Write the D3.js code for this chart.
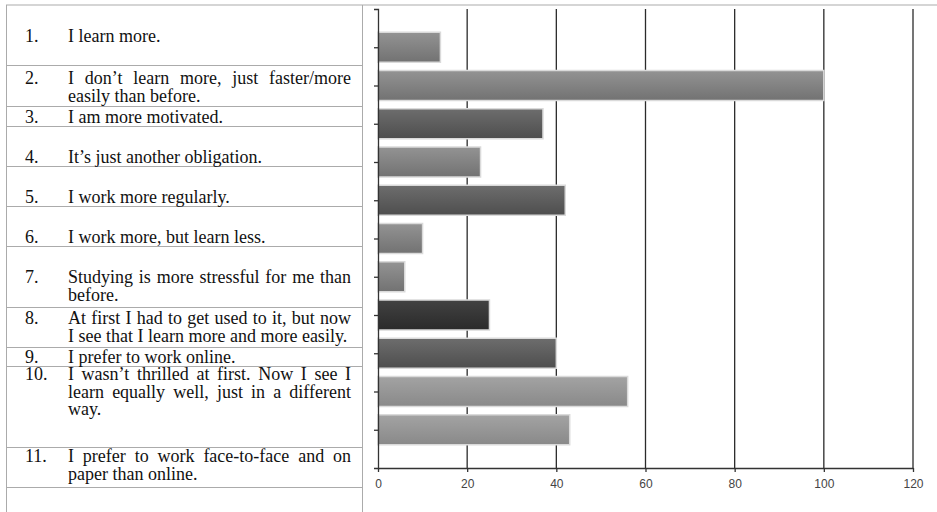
<!DOCTYPE html>
<html>
<head>
<meta charset="utf-8">
<script src="https://cdn.jsdelivr.net/npm/d3@7"></script>
<style>
  body { margin: 0; background: #fff; }
  svg { display: block; }
</style>
</head>
<body>
<svg id="chart"></svg>
<script>
// statements shown in the table, one array entry per printed line
var itemNumbers = ["1.", "2.", "3.", "4.", "5.", "6.", "7.", "8.", "9.", "10.", "11."];
var itemLines = [
  ["I learn more."],
  ["I don\u2019t learn more, just faster/more", "easily than before."],
  ["I am more motivated."],
  ["It\u2019s just another obligation."],
  ["I work more regularly."],
  ["I work more, but learn less."],
  ["Studying is more stressful for me than", "before."],
  ["At first I had to get used to it, but now", "I see that I learn more and more easily."],
  ["I prefer to work online."],
  ["I wasn\u2019t thrilled at first. Now I see I", "learn equally well, just in a different", "way."],
  ["I prefer to work face-to-face and on", "paper than online."]
];
var responses = [14, 100, 37, 23, 42, 10, 6, 25, 40, 56, 43];
var xTicks = [0, 20, 40, 60, 80, 100, 120];
var barShade = ["mid", "mid", "dark", "mid", "dark", "mid", "mid", "darkest", "dark", "light", "light"];

var width = 937, height = 512;
var svg = d3.select("#chart").attr("width", width).attr("height", height);

// ---- table on the left ----
var rowEdges = [5, 65, 106, 126, 166, 206, 246, 307, 347, 366, 447, 487];
var firstLineY = [36, 78, 116.5, 157, 197, 237, 277, 318, 356.5, 374, 456];
var lineStep = 17.5;
var tableLeft = 6, tableRight = 362;
var numX = 25, textX = 68, textRight = 351;
var gridColor = "#ababab";
var serif = "'Liberation Serif', 'Times New Roman', serif";
var fontSize = "18px";

var table = svg.append("g");
table.append("line")
  .attr("x1", tableLeft).attr("x2", width)
  .attr("y1", rowEdges[0]).attr("y2", rowEdges[0])
  .attr("stroke", gridColor);
table.selectAll(".rowline")
  .data(rowEdges.slice(1))
  .enter()
  .append("line")
  .attr("class", "rowline")
  .attr("x1", tableLeft).attr("x2", tableRight)
  .attr("y1", function (d) { return d + 0.5; })
  .attr("y2", function (d) { return d + 0.5; })
  .attr("stroke", gridColor);
[tableLeft, tableRight].forEach(function (x) {
  table.append("line")
    .attr("x1", x + 0.5).attr("x2", x + 0.5)
    .attr("y1", rowEdges[0]).attr("y2", height)
    .attr("stroke", gridColor);
});

function addText(str, x, y) {
  return table.append("text")
    .attr("x", x).attr("y", y)
    .style("font-family", serif).style("font-size", fontSize)
    .attr("fill", "#111")
    .text(str);
}

itemLines.forEach(function (lines, i) {
  var base = firstLineY[i] + 6;
  addText(itemNumbers[i], numX, base);
  lines.forEach(function (line, j) {
    var y = base + j * lineStep;
    var justify = lines.length > 1 && j < lines.length - 1;
    if (!justify) {
      addText(line, textX, y);
      return;
    }
    // spread the words across the column like justified text
    var words = line.split(" ");
    var nodes = words.map(function (w) { return addText(w, 0, y); });
    var widths = nodes.map(function (n) { return n.node().getComputedTextLength(); });
    var gap = (textRight - textX - d3.sum(widths)) / (words.length - 1);
    var cx = textX;
    nodes.forEach(function (n, k) {
      n.attr("x", cx);
      cx += widths[k] + gap;
    });
  });
});

// ---- bar chart ----
var x = d3.scaleLinear().domain([0, 120]).range([378, 913]);
var y = d3.scalePoint().domain(d3.range(responses.length)).range([9, 468]).padding(1);
var barH = 30;

var defs = svg.append("defs");
var shades = {
  light: ["#a3a3a3", "#898989"],
  mid: ["#939393", "#727272"],
  dark: ["#6d6d6d", "#4e4e4e"],
  darkest: ["#424242", "#2a2a2a"]
};
Object.keys(shades).forEach(function (k) {
  var g = defs.append("linearGradient")
    .attr("id", "grad-" + k)
    .attr("x1", 0).attr("y1", 0).attr("x2", 0).attr("y2", 1);
  g.append("stop").attr("offset", "0%").attr("stop-color", shades[k][0]);
  g.append("stop").attr("offset", "100%").attr("stop-color", shades[k][1]);
});

// vertical gridlines behind the bars
svg.append("g")
  .selectAll("line")
  .data(xTicks.slice(1))
  .enter()
  .append("line")
  .attr("x1", function (d) { return x(d); })
  .attr("x2", function (d) { return x(d); })
  .attr("y1", y.range()[0])
  .attr("y2", y.range()[1])
  .attr("stroke", "#2b2b2b")
  .attr("stroke-width", 1.3);

svg.append("g")
  .selectAll("rect")
  .data(responses)
  .enter()
  .append("rect")
  .attr("x", x(0))
  .attr("y", function (d, i) { return y(i) - barH / 2; })
  .attr("width", function (d) { return x(d) - x(0); })
  .attr("height", barH)
  .attr("fill", function (d, i) { return "url(#grad-" + barShade[i] + ")"; })
  .attr("stroke", "#dadada")
  .attr("stroke-width", 1.5);

var xaxis = d3.axisBottom(x).tickValues(xTicks).tickSize(4).tickSizeOuter(0).tickPadding(7);
var gx = svg.append("g")
  .attr("transform", "translate(0," + y.range()[1] + ")")
  .call(xaxis);
var yaxis = d3.axisLeft(y).tickSize(4).tickSizeOuter(4).tickFormat("");
var gy = svg.append("g")
  .attr("transform", "translate(" + x(0) + ",0)")
  .call(yaxis);

[gx, gy].forEach(function (g) {
  g.selectAll("path, line").attr("stroke", "#333").attr("stroke-width", 1.3);
});
gx.selectAll("text")
  .style("font-family", "'Liberation Sans', Arial, sans-serif")
  .style("font-size", "12px")
  .attr("fill", "#444");
</script>
</body>
</html>
